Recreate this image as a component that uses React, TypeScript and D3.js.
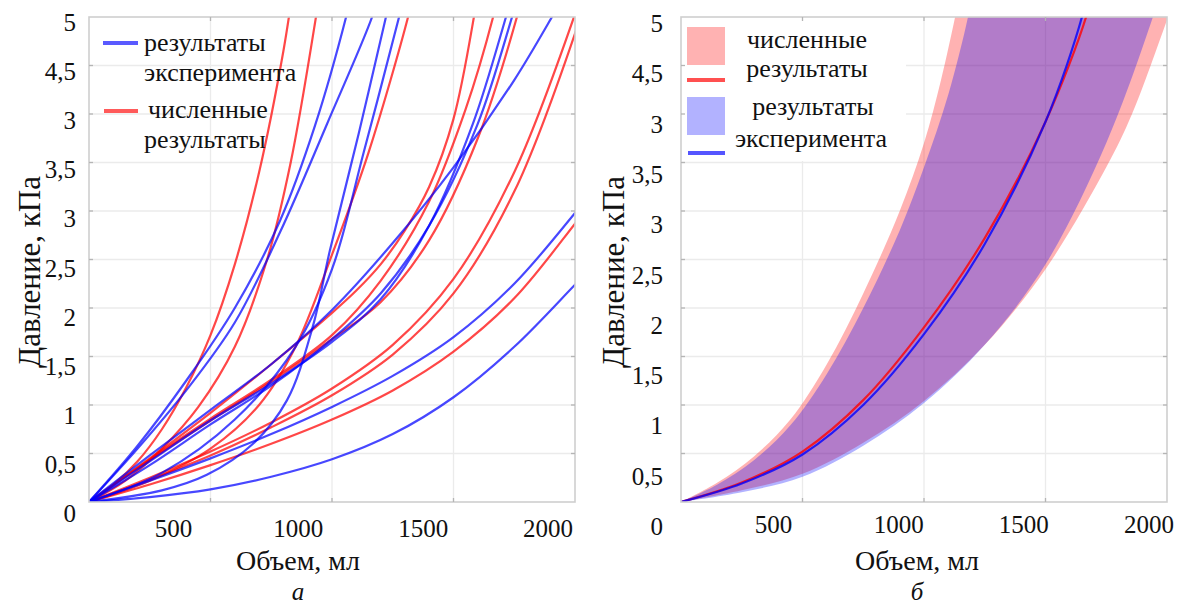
import React from 'react';
import * as d3 from 'd3';

type Pt = [number, number];

// Axis ticks and their printed labels
const yTicks = [5, 4.5, 4, 3.5, 3, 2.5, 2, 1.5, 1, 0.5, 0];
const yTickText = ['5', '4,5', '3', '3,5', '3', '2,5', '2', '1,5', '1', '0,5', '0'];
const xTicks = [500, 1000, 1500, 2000];
const xTickText = ['500', '1000', '1500', '2000'];
const gridV = [500, 1000, 1500];
const gridP = [0.5, 1, 1.5, 2, 2.5, 3, 3.5, 4, 4.5];

// Panel a: experimental curves (volume, ml -> pressure, kPa)
const expB1: Pt[] = [[0, 0], [200, 0.58], [400, 1.25], [600, 2.0], [786, 2.9], [930, 3.88], [1058, 5.0], [1090, 5.35]];
const expB2: Pt[] = [[0, 0], [200, 0.55], [400, 1.15], [600, 1.85], [786, 2.78], [980, 3.9], [1165, 5.0], [1200, 5.3]];
const expB3: Pt[] = [[0, 0], [300, 0.12], [485, 0.28], [675, 0.6], [815, 1.05], [920, 1.8], [992, 2.6], [1110, 3.8], [1222, 5.0], [1250, 5.3]];
const expB4: Pt[] = [[0, 0], [300, 0.3], [600, 0.85], [850, 1.6], [1000, 2.4], [1130, 3.6], [1276, 5.0], [1300, 5.25]];
const expB5: Pt[] = [[0, 0], [250, 0.42], [500, 0.84], [750, 1.22], [1000, 1.65], [1200, 2.09], [1400, 2.85], [1580, 3.9], [1716, 5.0], [1750, 5.3]];
const expB6: Pt[] = [[0, 0], [250, 0.38], [500, 0.8], [750, 1.2], [1000, 1.68], [1200, 2.15], [1400, 2.85], [1600, 3.9], [1741, 5.0], [1770, 5.25]];
const expB7: Pt[] = [[0, 0], [250, 0.48], [500, 0.95], [750, 1.42], [1000, 1.98], [1250, 2.67], [1500, 3.45], [1750, 4.35], [1905, 5.0], [1950, 5.2]];
const expB8: Pt[] = [[0, 0], [250, 0.22], [500, 0.45], [750, 0.7], [1000, 0.98], [1250, 1.3], [1500, 1.7], [1750, 2.25], [2000, 2.98], [2100, 3.3]];
const expB9: Pt[] = [[0, 0], [250, 0.05], [500, 0.13], [750, 0.26], [1000, 0.44], [1250, 0.7], [1500, 1.08], [1750, 1.6], [2000, 2.24], [2100, 2.5]];

// Panel a: numerical curves
const numR1: Pt[] = [[0, 0], [100, 0.18], [200, 0.42], [300, 0.75], [400, 1.18], [500, 1.72], [600, 2.45], [700, 3.4], [800, 4.65], [840, 5.3]];
const numR2: Pt[] = [[0, 0], [150, 0.22], [300, 0.55], [450, 0.98], [600, 1.6], [733, 2.5], [830, 3.5], [934, 5.0], [955, 5.35]];
const numR3: Pt[] = [[0, 0], [250, 0.22], [500, 0.55], [700, 1.0], [850, 1.6], [1000, 2.55], [1150, 3.6], [1313, 5.0], [1340, 5.3]];
const numR4: Pt[] = [[0, 0], [250, 0.45], [500, 0.92], [750, 1.42], [1000, 1.95], [1100, 2.18], [1200, 2.45], [1300, 2.8], [1400, 3.25], [1500, 3.95], [1584, 5.0], [1605, 5.35]];
const numR5: Pt[] = [[0, 0], [250, 0.44], [500, 0.86], [750, 1.26], [1000, 1.72], [1200, 2.28], [1400, 3.1], [1550, 4.05], [1663, 5.0], [1690, 5.3]];
const numR6: Pt[] = [[0, 0], [250, 0.43], [500, 0.84], [750, 1.24], [1000, 1.68], [1200, 2.06], [1400, 2.7], [1600, 3.75], [1761, 5.0], [1790, 5.3]];
const numR7: Pt[] = [[0, 0], [250, 0.25], [500, 0.52], [750, 0.82], [1000, 1.17], [1250, 1.62], [1500, 2.3], [1750, 3.4], [2000, 5.03], [2040, 5.35]];
const numR8: Pt[] = [[0, 0], [250, 0.23], [500, 0.48], [750, 0.77], [1000, 1.1], [1250, 1.52], [1500, 2.15], [1750, 3.2], [2000, 4.83], [2050, 5.25]];
const numR9: Pt[] = [[0, 0], [250, 0.18], [500, 0.38], [750, 0.6], [1000, 0.85], [1250, 1.15], [1500, 1.55], [1750, 2.1], [2000, 2.87], [2100, 3.2]];

const expCurves = [expB1, expB2, expB3, expB4, expB5, expB6, expB7, expB8, expB9];
const numCurves = [numR1, numR2, numR3, numR4, numR5, numR6, numR7, numR8, numR9];

// Panel б: numerical band, experimental band and mean curves
const numBandUpper: Pt[] = [[0, 0], [150, 0.2], [300, 0.47], [450, 0.85], [600, 1.42], [750, 2.15], [900, 3.0], [1000, 3.7], [1070, 4.35], [1128, 5.0], [1160, 5.4]];
const numBandLower: Pt[] = [[0, 0], [250, 0.12], [500, 0.29], [750, 0.61], [1000, 1.04], [1250, 1.62], [1500, 2.4], [1750, 3.45], [1856, 4.0], [2000, 4.97], [2060, 5.4]];
const expBandUpper: Pt[] = [[0, 0], [150, 0.18], [300, 0.43], [450, 0.79], [600, 1.32], [750, 2.0], [900, 2.8], [1000, 3.45], [1100, 4.2], [1181, 5.0], [1210, 5.4]];
const expBandLower: Pt[] = [[0, 0], [250, 0.1], [500, 0.26], [750, 0.58], [1000, 1.02], [1250, 1.62], [1500, 2.45], [1750, 3.7], [1942, 5.0], [1990, 5.4]];
const numMean: Pt[] = [[0, 0], [250, 0.2], [500, 0.52], [750, 1.05], [1000, 1.8], [1250, 2.72], [1500, 3.92], [1667, 5.0], [1695, 5.3]];
const expMean: Pt[] = [[0, 0], [250, 0.19], [500, 0.49], [750, 1.0], [1000, 1.73], [1250, 2.66], [1500, 3.92], [1650, 5.0], [1675, 5.3]];

const W = 1179;
const H = 606;
const TOP = 17;
const BOTTOM = 502;
const FONT = 'Liberation Serif, Times New Roman, DejaVu Serif, serif';

const RED = 'rgb(255,0,0)';
const BLUE = 'rgb(0,0,255)';

interface PanelProps {
  id: string;
  x0: number;
  x1: number;
  xLabelShift: [number, number];
  yLabelRange: [number, number];
  xLabelBaseline: number;
  yLabelRight: number;
  titleX: number;
  yTitleX: number;
  letter: string;
  legendBg?: [number, number, number, number];
  children: (x: d3.ScaleLinear<number, number>, y: d3.ScaleLinear<number, number>) => React.ReactNode;
  legend: React.ReactNode;
}

function Panel(p: PanelProps) {
  const x = d3.scaleLinear().domain([0, 2000]).range([p.x0, p.x1]);
  const y = d3.scaleLinear().domain([0, 5]).range([BOTTOM, TOP]);
  const xLab = d3.scaleLinear().domain([500, 2000]).range([x(500) + p.xLabelShift[0], x(2000) + p.xLabelShift[1]]);
  const yLab = d3.scaleLinear().domain([0, 5]).range(p.yLabelRange);
  const clipId = `clip-${p.id}`;
  const tick = 4;
  return (
    <g>
      <defs>
        <clipPath id={clipId}>
          <rect x={p.x0} y={TOP} width={p.x1 - p.x0} height={BOTTOM - TOP} />
        </clipPath>
      </defs>
      {/* grid */}
      <g stroke="#ebebeb" strokeWidth={1.3}>
        {gridV.map((v) => (
          <line key={`gv${v}`} x1={x(v)} x2={x(v)} y1={TOP} y2={BOTTOM} />
        ))}
        {gridP.map((v) => (
          <line key={`gp${v}`} x1={p.x0} x2={p.x1} y1={y(v)} y2={y(v)} />
        ))}
      </g>
      {p.legendBg && (
        <rect x={p.legendBg[0]} y={p.legendBg[1]} width={p.legendBg[2]} height={p.legendBg[3]} fill="#fff" />
      )}
      <g clipPath={`url(#${clipId})`}>{p.children(x, y)}</g>
      {/* frame and inner ticks */}
      <rect x={p.x0} y={TOP} width={p.x1 - p.x0} height={BOTTOM - TOP} fill="none" stroke="#cfcfcf" strokeWidth={1.6} />
      <g stroke="#b5b5b5" strokeWidth={1.3}>
        {gridV.map((v) => (
          <g key={`tv${v}`}>
            <line x1={x(v)} x2={x(v)} y1={BOTTOM} y2={BOTTOM - tick} />
            <line x1={x(v)} x2={x(v)} y1={TOP} y2={TOP + tick} />
          </g>
        ))}
        {gridP.map((v) => (
          <g key={`tp${v}`}>
            <line x1={p.x0} x2={p.x0 + tick} y1={y(v)} y2={y(v)} />
            <line x1={p.x1} x2={p.x1 - tick} y1={y(v)} y2={y(v)} />
          </g>
        ))}
      </g>
      {/* tick labels */}
      <g style={{ fontFamily: FONT }} fontSize={25} fill="#111">
        {yTicks.map((v, i) => (
          <text key={`yl${i}`} x={p.yLabelRight} y={yLab(v)} textAnchor="end">
            {yTickText[i]}
          </text>
        ))}
        {xTicks.map((v, i) => (
          <text key={`xl${i}`} x={xLab(v)} y={p.xLabelBaseline} textAnchor="middle">
            {xTickText[i]}
          </text>
        ))}
      </g>
      {/* axis titles */}
      <text x={p.titleX} y={570} textAnchor="middle" style={{ fontFamily: FONT }} fontSize={28} fill="#111">
        Объем, мл
      </text>
      <text x={p.titleX} y={600} textAnchor="middle" style={{ fontFamily: FONT }} fontSize={25} fontStyle="italic" fill="#111">
        {p.letter}
      </text>
      <text
        transform={`translate(${p.yTitleX},${272}) rotate(-90)`}
        textAnchor="middle"
        dominantBaseline="central"
        style={{ fontFamily: FONT }}
        fontSize={31}
        fill="#111"
      >
        Давление, кПа
      </text>
      {p.legend}
    </g>
  );
}

export default function App() {
  const curve = d3.curveCatmullRom.alpha(0.5);
  const mkLine = (x: d3.ScaleLinear<number, number>, y: d3.ScaleLinear<number, number>) =>
    d3
      .line<Pt>()
      .x((d) => x(d[0]))
      .y((d) => y(d[1]))
      .curve(curve);
  const band = (
    x: d3.ScaleLinear<number, number>,
    y: d3.ScaleLinear<number, number>,
    upper: Pt[],
    lower: Pt[]
  ) => {
    const ln = mkLine(x, y);
    const up = ln(upper) || '';
    const lo = ln(lower.slice().reverse()) || '';
    return up + lo.replace(/^M/, 'L') + 'Z';
  };

  const legendA = (
    <g style={{ fontFamily: FONT }} fontSize={26} fill="#111">
      <line x1={103} x2={138} y1={43} y2={43} stroke="#5a5aff" strokeWidth={4} />
      <text x={144} y={51}>результаты</text>
      <text x={144} y={81}>эксперимента</text>
      <line x1={104} x2={138} y1={111} y2={111} stroke="#ff5a5a" strokeWidth={4} />
      <text x={148} y={118}>численные</text>
      <text x={144} y={148}>результаты</text>
    </g>
  );

  const legendB = (
    <g style={{ fontFamily: FONT }} fontSize={26} fill="#111">
      <rect x={687} y={27} width={38} height={38} fill={RED} fillOpacity={0.3} />
      <line x1={687} x2={725} y1={80} y2={80} stroke="#ff5050" strokeWidth={4} />
      <rect x={687} y={97} width={38} height={38} fill={BLUE} fillOpacity={0.3} />
      <line x1={688} x2={725} y1={153} y2={153} stroke="#5555ff" strokeWidth={4} />
      <text x={807} y={48} textAnchor="middle">численные</text>
      <text x={807} y={77} textAnchor="middle">результаты</text>
      <text x={813} y={115} textAnchor="middle">результаты</text>
      <text x={811} y={147} textAnchor="middle">эксперимента</text>
    </g>
  );

  return (
    <svg
      width={W}
      height={H}
      viewBox={`0 0 ${W} ${H}`}
      style={{ position: 'absolute', left: 0, top: 0, background: '#fff' }}
    >
      <rect x={0} y={0} width={W} height={H} fill="#fff" />
      <Panel
        id="a"
        x0={89}
        x1={575}
        xLabelShift={[-37, -27]}
        yLabelRange={[522, 31]}
        xLabelBaseline={537}
        yLabelRight={76}
        titleX={298}
        yTitleX={29}
        letter="а"
        legend={legendA}
      >
        {(x, y) => {
          const ln = mkLine(x, y);
          return (
            <g fill="none" strokeWidth={2.2} strokeOpacity={0.72}>
              {numCurves.map((c, i) => (
                <path key={`r${i}`} d={ln(c) || ''} stroke={RED} />
              ))}
              {expCurves.map((c, i) => (
                <path key={`b${i}`} d={ln(c) || ''} stroke={BLUE} />
              ))}
            </g>
          );
        }}
      </Panel>
      <Panel
        id="b"
        x0={681}
        x1={1167}
        xLabelShift={[-29, -18]}
        yLabelRange={[535, 32]}
        xLabelBaseline={533}
        yLabelRight={663}
        titleX={917}
        yTitleX={613}
        letter="б"
        legendBg={[682, 18, 224, 143]}
        legend={legendB}
      >
        {(x, y) => {
          const ln = mkLine(x, y);
          return (
            <g>
              <path d={band(x, y, numBandUpper, numBandLower)} fill={RED} fillOpacity={0.3} />
              <path d={band(x, y, expBandUpper, expBandLower)} fill={BLUE} fillOpacity={0.3} />
              <path d={ln(numMean) || ''} fill="none" stroke={RED} strokeOpacity={0.8} strokeWidth={2.2} />
              <path d={ln(expMean) || ''} fill="none" stroke={BLUE} strokeOpacity={0.8} strokeWidth={2.2} />
            </g>
          );
        }}
      </Panel>
    </svg>
  );
}
